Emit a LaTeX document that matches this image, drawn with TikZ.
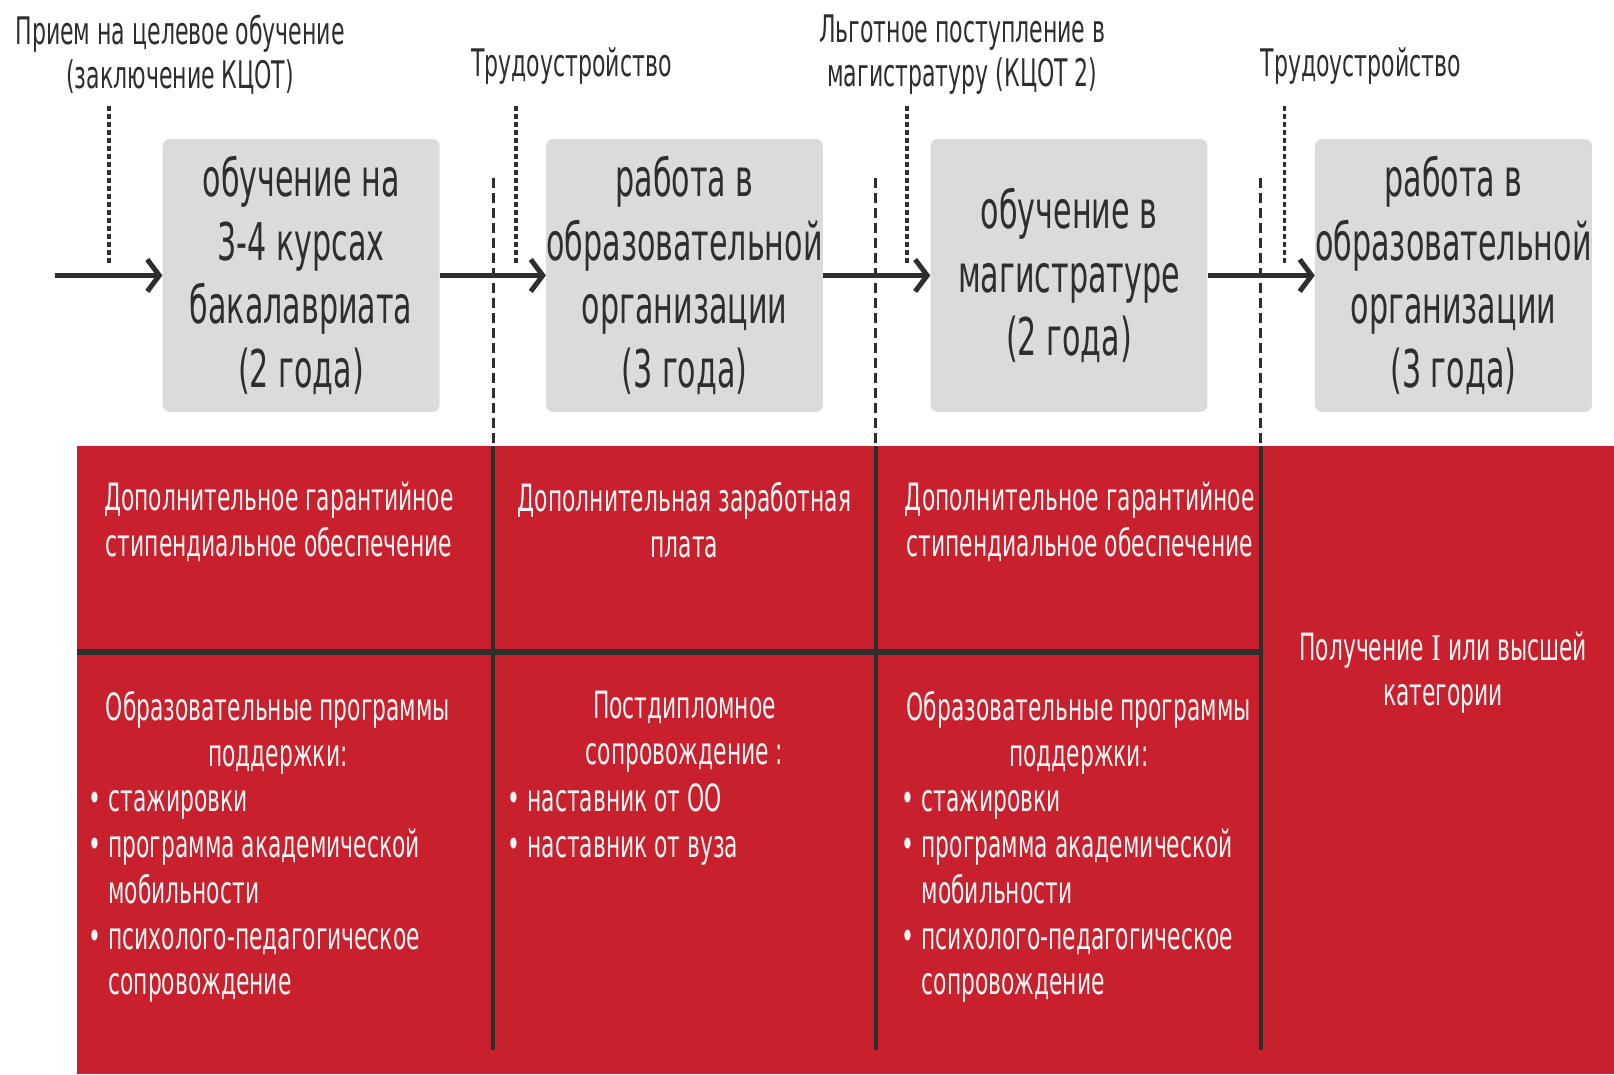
\documentclass[tikz,border=0pt]{standalone}
\usepackage{fontspec}
\setmainfont{DejaVu Sans}[FakeStretch=0.58]
\newfontfamily\romanI{Liberation Serif}[FakeStretch=0.8]
\usetikzlibrary{arrows.meta}
\definecolor{dk}{HTML}{2E2E2E}
\definecolor{boxg}{HTML}{DADBDB}
\definecolor{redbg}{HTML}{C8202C}
\definecolor{wt}{HTML}{F4F4F4}
\begin{document}
\begin{tikzpicture}[x=1.0293pt,y=-1.0297pt,
  stage/.style={fill=boxg,rounded corners=7pt,inner sep=0pt,minimum width=276.9pt,minimum height=272.9pt,align=center,text=dk,font=\fontsize{52}{63.8}\selectfont},
  flow/.style={draw=dk,line width=5.5pt,-{Straight Barb[length=12pt,width=32pt,line width=5pt]}},
  evt/.style={draw=dk,line width=3.6pt,dash pattern=on 5pt off 3pt},
  sepdash/.style={draw=dk,line width=3pt,dash pattern=on 10pt off 5pt},
  sepsolid/.style={draw=dk,line width=3.6pt},
  lbl/.style={font=\fontsize{38}{44.3}\selectfont,text=dk,align=center,inner sep=0pt},
  wtx/.style={font=\fontsize{37.6}{45.8}\selectfont,text=wt,align=center,inner sep=0pt},
  wlist/.style={font=\fontsize{37.6}{45.8}\selectfont,text=wt,align=left,inner sep=0pt,anchor=north west}
]
\useasboundingbox (0,0) rectangle (1568,1043);
\fill[white] (0,0) rectangle (1568,1043);

% red panel
\node[fill=redbg,inner sep=0pt,minimum width=1536.7pt,minimum height=628.1pt,anchor=north west] (panel) at (75,433) {};

% stage boxes
\node[stage] (b1) at (292.5,267.5) {обучение на\\3-4 курсах\\бакалавриата\\(2 года)};
\node[stage] (b2) at (665,267.5) {работа в\\образовательной\\организации\\(3 года)};
\node[stage] (b3) at (1038.5,267.5) {обучение в\\магистратуре\\(2 года)};
\node[stage] (b4) at (1412,267.5) {работа в\\образовательной\\организации\\(3 года)};

% separators
\foreach \i/\x in {1/479,2/851,3/1225}{
  \coordinate (d\i t) at (\x,173);
  \coordinate (d\i m) at (\x,433);
  \coordinate (d\i b) at (\x,1020);
}
\foreach \i in {1,2,3}{
  \draw[sepdash] (d\i t) -- (d\i m);
  \draw[sepsolid] (d\i m) -- (d\i b);
}
\coordinate (hl) at (75,633);
\coordinate (hr) at (1225,633);
\draw[draw=dk,line width=5.8pt] (hl) -- (hr);

% flow arrows
\coordinate (s0) at (53,267.5);
\draw[flow] (s0) -- (b1);
\draw[flow] (b1) -- (b2);
\draw[flow] (b2) -- (b3);
\draw[flow] (b3) -- (b4);

% event markers
\foreach \i/\x in {1/106,2/501,3/881,4/1248}{
  \coordinate (e\i t) at (\x,103);
  \coordinate (e\i b) at (\x,258);
}
\foreach \i in {1,2,3,4}{
  \draw[evt] (e\i t) -- (e\i b);
}

% top labels
\node[lbl,anchor=north] (l1) at (175,14) {Прием на целевое обучение\\(заключение КЦОТ)};
\node[lbl,anchor=north] (l2) at (555,46) {Трудоустройство};
\node[lbl,anchor=north] (l3) at (935,14) {Льготное поступление в\\магистратуру (КЦОТ 2)};
\node[lbl,anchor=north] (l4) at (1322,46) {Трудоустройство};

% red panel texts
\node[wtx,anchor=north] (g1) at (271,468) {Дополнительное гарантийное\\стипендиальное обеспечение};
\node[wtx,anchor=north] (g2) at (665,468) {Дополнительная заработная\\плата};
\node[wtx,anchor=north] (g3) at (1049,468) {Дополнительное гарантийное\\стипендиальное обеспечение};
\node[wtx,anchor=north] (c4) at (1402,613) {Получение {\romanI I} или высшей\\категории};

\node[wtx,anchor=north] (p1) at (270,671) {Образовательные программы\\поддержки:};
\node[wtx,anchor=north] (p2) at (665,671) {Постдипломное\\сопровождение :};
\node[wtx,anchor=north] (p3) at (1048,671) {Образовательные программы\\поддержки:};

\node[wlist] (q1) at (86,761) {\vphantom{О}• стажировки\\• программа академической\\\hphantom{• }мобильности\\• психолого-педагогическое\\\hphantom{• }сопровождение};
\node[wlist] (q2) at (493,761) {\vphantom{О}• наставник от ОО\\• наставник от вуза};
\node[wlist] (q3) at (876,761) {\vphantom{О}• стажировки\\• программа академической\\\hphantom{• }мобильности\\• психолого-педагогическое\\\hphantom{• }сопровождение};
\end{tikzpicture}
\end{document}
